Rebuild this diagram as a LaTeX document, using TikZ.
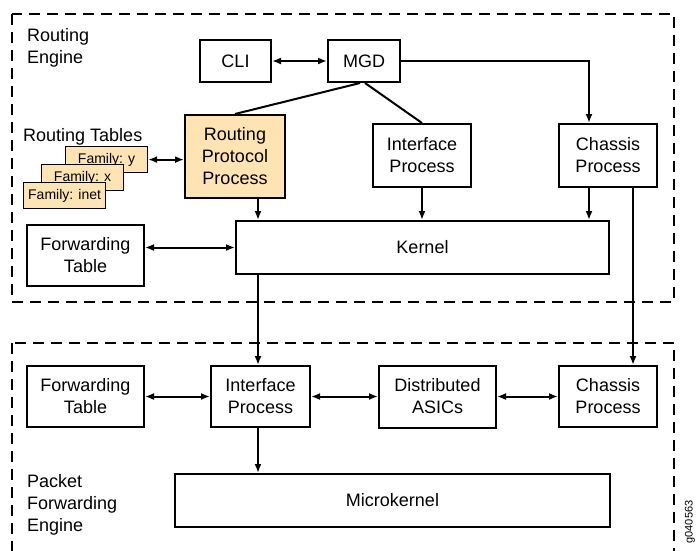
\documentclass[tikz,border=0pt]{standalone}
\usepackage{fontspec}
\setmainfont{Liberation Sans}
\usetikzlibrary{arrows.meta}
\definecolor{beige}{RGB}{253,228,178}
\begin{document}
\begin{tikzpicture}[x=1pt,y=-1pt,
  box/.style={draw,line width=2pt,inner sep=0pt,align=center,font=\fontsize{18}{22}\selectfont,fill=white},
  fam/.style={draw,line width=1.2pt,fill=beige,inner sep=0pt,minimum width=82pt,minimum height=26pt,font=\fontsize{14}{16}\selectfont,anchor=north west},
  arr/.style={line width=2pt,-{Latex[length=9pt,width=7pt]}},
  darr/.style={line width=2pt,{Latex[length=9pt,width=7pt]}-{Latex[length=9pt,width=7pt]}},
  ln/.style={line width=2pt},
  frame/.style={line width=2pt,dash pattern=on 11pt off 7pt},
  lbl/.style={align=left,font=\fontsize{18}{22}\selectfont,anchor=north west,inner sep=0pt}
]
\useasboundingbox (0,0) rectangle (698,550);
% frames
\draw[frame] (12,14) rectangle (674,302);
\draw[frame] (12,343) rectangle (674,570);
\node[lbl] (relbl) at (27,28) {Routing\\Engine};
\node[lbl] (pfelbl) at (27,474) {Packet\\Forwarding\\Engine};
\node[lbl] (rtlbl) at (23,128) {Routing Tables};
% column coordinates
\coordinate (acol) at (258,0);
\coordinate (ccol) at (589,0);
\coordinate (dcol) at (633,0);
% routing engine boxes
\node[box,minimum width=71pt,minimum height=42pt] (cli) at (235.5,61) {CLI};
\node[box,minimum width=72pt,minimum height=42pt] (mgd) at (364,61) {MGD};
\node[box,fill=beige,minimum width=100pt,minimum height=83pt] (rpp) at (235,156.5) {Routing\\Protocol\\Process};
\node[box,minimum width=98pt,minimum height=63pt] (ipt) at (422,155.5) {Interface\\Process};
\node[box,minimum width=98pt,minimum height=63pt] (cpt) at (608,155.5) {Chassis\\Process};
\node[box,minimum width=373pt,minimum height=53pt] (kern) at (422.5,247.5) {Kernel};
\node[box,minimum width=117pt,minimum height=61pt] (ftt) at (85.5,255.5) {Forwarding\\Table};
\node[fam] (fy) at (65,146) {Family: y};
\node[fam] (fx) at (41,164) {Family: x};
\node[fam] (fi) at (23,182) {Family: inet};
% packet forwarding engine boxes
\node[box,minimum width=117pt,minimum height=61pt] (ftp) at (85.5,396.5) {Forwarding\\Table};
\node[box,minimum width=99pt,minimum height=61pt] (ipp) at (260.5,396.5) {Interface\\Process};
\node[box,minimum width=117pt,minimum height=62pt] (da) at (437.5,396.5) {Distributed\\ASICs};
\node[box,minimum width=98pt,minimum height=61pt] (cpp) at (608,396.5) {Chassis\\Process};
\node[box,minimum width=435pt,minimum height=53pt] (mk) at (392.5,500.5) {Microkernel};
\node[rotate=90,inner sep=0pt,font=\fontsize{11}{13}\selectfont] (code) at (690,522) {g040563};
% connectors
\draw[darr] (cli.east) -- (mgd.west);
\draw[arr] (mgd.east) -- (mgd.east -| ccol) -- (ccol |- cpt.north);
\draw[ln] ([xshift=-4pt]mgd.south) -- (rpp.north);
\draw[ln] ([xshift=1pt]mgd.south) -- (ipt.north);
\draw[darr] (fy.east) -- (fy.east -| rpp.west);
\draw[arr] (rpp.south -| acol) -- (acol |- kern.north);
\draw[arr] (ipt.south) -- (ipt.south |- kern.north);
\draw[arr] (cpt.south -| ccol) -- (ccol |- kern.north);
\draw[darr] (kern.west -| ftt.east) -- (kern.west);
\draw[arr] (kern.south -| acol) -- (acol |- ipp.north);
\draw[arr] (cpt.south -| dcol) -- (dcol |- cpp.north);
\draw[darr] (ftp.east) -- (ipp.west);
\draw[darr] (ipp.east) -- (da.west);
\draw[darr] (da.east) -- (cpp.west);
\draw[arr] (ipp.south -| acol) -- (acol |- mk.north);
\end{tikzpicture}
\end{document}
